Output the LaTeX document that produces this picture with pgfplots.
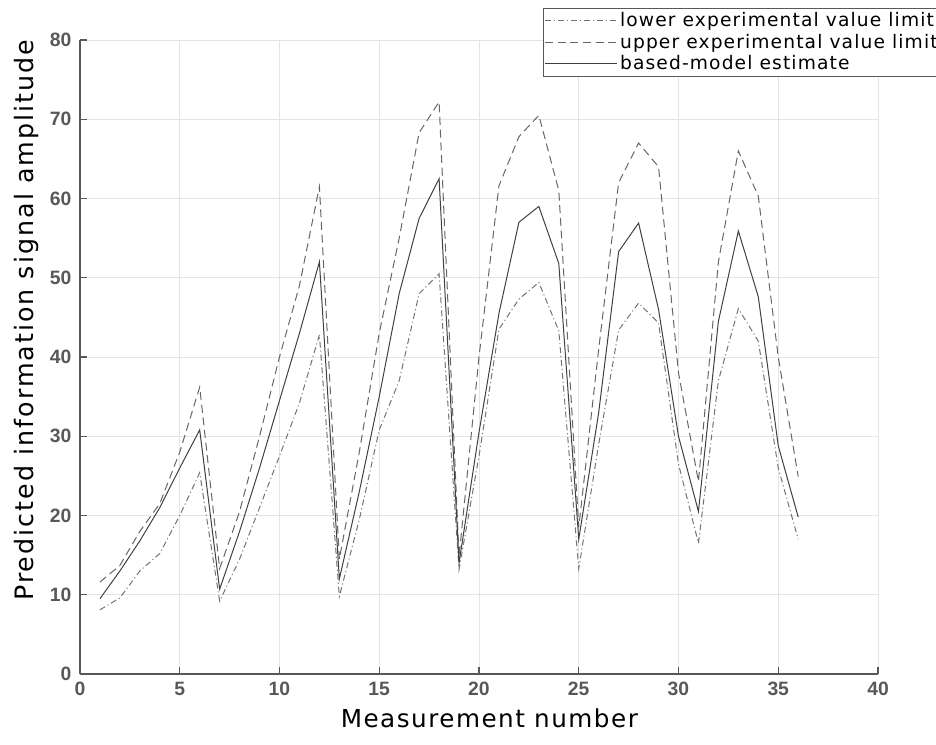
\documentclass[border=0pt]{standalone}
\usepackage{fontspec}
\usepackage{pgfplots}
\usepackage{pgfplotstable}
\pgfplotsset{compat=1.18}
\setmainfont{DejaVu Sans}
\newfontfamily\labelfont[LetterSpace=6]{DejaVu Sans}
\newfontfamily\ylabelfont[LetterSpace=8]{DejaVu Sans}
\newfontfamily\tickfont{Liberation Sans}
\definecolor{tickgray}{RGB}{88,88,88}
\definecolor{gridgray}{RGB}{228,228,228}

% x  lower  upper  model
\pgfplotstableread{
x  lower upper model
1  8.1   11.6  9.5
2  9.6   13.7  13.0
3  13.0  18.0  16.8
4  15.2  21.5  21.0
5  20.0  28.0  26.0
6  25.4  36.2  30.8
7  9.2   13.3  10.7
8  14.5  20.5  18.0
9  21.0  30.0  26.0
10 27.5  40.0  34.5
11 34.2  49.0  43.0
12 42.8  61.5  52.0
13 9.8   14.5  12.0
14 19.5  28.0  23.0
15 30.8  43.0  35.0
16 37.0  55.0  48.0
17 48.0  68.3  57.5
18 50.5  72.2  62.5
19 13.2  14.8  14.0
20 27.5  40.0  30.5
21 43.5  61.6  45.5
22 47.3  67.8  57.0
23 49.4  70.5  59.0
24 43.3  61.0  51.8
25 13.3  18.5  17.0
26 29.0  41.0  33.0
27 43.4  62.0  53.3
28 46.8  67.0  56.9
29 44.3  64.0  46.0
30 26.5  38.0  30.0
31 16.5  24.3  20.5
32 37.0  52.0  44.5
33 46.1  66.0  55.9
34 42.0  60.3  47.6
35 26.0  40.0  28.8
36 17.0  24.9  19.8
}\meas

\begin{document}
\begin{tikzpicture}
\begin{axis}[
    name=ax,
    scale only axis,
    width=598.5pt,
    height=475.5pt,
    xmin=0, xmax=40,
    ymin=0, ymax=80,
    xtick={0,5,...,40},
    ytick={0,10,...,80},
    axis x line=bottom,
    axis y line=left,
    axis line style={-, draw=tickgray, line width=0.9pt},
    tick align=inside,
    major tick length=5pt,
    tick style={draw=tickgray, line width=0.8pt},
    grid=major,
    major grid style={draw=gridgray, line width=0.7pt},
    /pgf/number format/assume math mode=true,
    ticklabel style={font=\tickfont\bfseries\fontsize{14.5}{16}\selectfont, text=tickgray},
    xticklabel style={yshift=-2.5pt},
    yticklabel style={xshift=-3pt},
    xlabel={Measurement number},
    ylabel={Predicted information signal amplitude},
    every axis x label/.style={at={(rel axis cs:0.513,0)}, anchor=center, yshift=-33pt,
        font=\labelfont\fontsize{18.5}{20}\selectfont},
    every axis y label/.style={at={(rel axis cs:0,0.558)}, xshift=-40pt, anchor=center, rotate=90,
        font=\ylabelfont\fontsize{19}{21}\selectfont},
    legend cell align=left,
    legend style={at={(rel axis cs:0.580,1.050)}, anchor=north west,
        draw=tickgray, fill=white, inner sep=1pt,
        font=\labelfont\fontsize{14}{15}\selectfont,
        row sep=0pt, /tikz/every even column/.append style={column sep=0pt}},
    legend image code/.code={\draw[#1] (0pt,0pt) -- (54pt,0pt);},
]
\addplot[black!55, line width=0.75pt, dash pattern=on 4.5pt off 2.2pt on 0.8pt off 2.2pt] table[x=x, y=lower] {\meas};
\addplot[black!60, line width=0.75pt, dash pattern=on 6pt off 3.5pt] table[x=x, y=upper] {\meas};
\addplot[black!75, line width=0.75pt] table[x=x, y=model] {\meas};
\legend{lower experimental value limit, upper experimental value limit, based-model estimate}
\end{axis}
\pgfresetboundingbox
\path[use as bounding box] (ax.south west) ++(-60pt,-53.25pt) rectangle ++(702pt,558.75pt);
\end{tikzpicture}
\end{document}
